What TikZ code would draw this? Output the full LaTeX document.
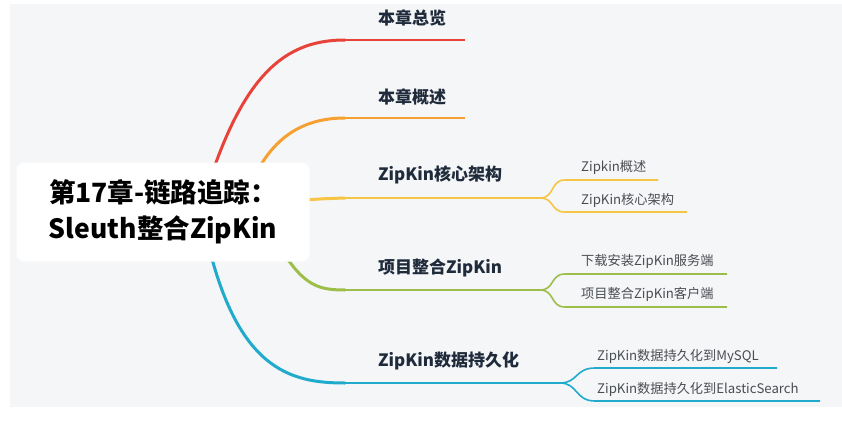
\documentclass[tikz,border=0pt]{standalone}
\usepackage{fontspec}
\setmainfont{Noto Sans CJK SC}
\definecolor{bgcol}{HTML}{F5F6F8}
\definecolor{navy}{HTML}{1F2B3B}
\definecolor{subgray}{HTML}{4A4D52}
\definecolor{redb}{HTML}{E8433A}
\definecolor{orangeb}{HTML}{F5A030}
\definecolor{yellowb}{HTML}{F6C545}
\definecolor{greenb}{HTML}{9DBE49}
\definecolor{blueb}{HTML}{20AACB}
\begin{document}
\begin{tikzpicture}[x=1pt,y=-1pt,
  topic/.style={anchor=west,inner sep=0pt,font=\bfseries\fontsize{17}{20}\selectfont,text=navy},
  leaf/.style={anchor=west,inner sep=0pt,font=\fontsize{13.2}{15}\selectfont,text=subgray},
  limb/.style={line width=3pt,line cap=round},
  twig/.style={line width=1.6pt}]
\useasboundingbox (0,0) rectangle (842,425);
\fill[white] (0,0) rectangle (842,425);
\fill[bgcol] (10,4) rectangle (842,407);
% main branches
\coordinate (r0) at (195,230);
\coordinate (o0) at (245,200);
\coordinate (y0) at (290,202);
\coordinate (g0) at (270,230);
\coordinate (b0) at (205,230);
\coordinate (r1) at (345,40);  \coordinate (r2) at (465,40);
\coordinate (o1) at (345,118); \coordinate (o2) at (465,118);
\coordinate (y1) at (345,198); \coordinate (y2) at (540,198);
\coordinate (g1) at (345,290); \coordinate (g2) at (540,290);
\coordinate (b1) at (345,383); \coordinate (b2) at (560,383);
\draw[limb,redb] (r0) .. controls (235,80) and (280,40) .. (r1);
\draw[twig,redb] (r1) -- (r2);
\draw[limb,orangeb] (o0) .. controls (265,140) and (300,118) .. (o1);
\draw[twig,orangeb] (o1) -- (o2);
\draw[limb,yellowb] (y0) .. controls (315,199) .. (y1);
\draw[twig,yellowb] (y1) -- (y2);
\draw[limb,greenb] (g0) .. controls (300,285) and (315,290) .. (g1);
\draw[twig,greenb] (g1) -- (g2);
\draw[limb,blueb] (b0) .. controls (235,370) and (290,383) .. (b1);
\draw[twig,blueb] (b1) -- (b2);
% sub branches
\coordinate (ya) at (565,180); \coordinate (ya2) at (658,180);
\coordinate (yb) at (565,212); \coordinate (yb2) at (687,212);
\coordinate (ga) at (565,274); \coordinate (ga2) at (727,274);
\coordinate (gb) at (565,307); \coordinate (gb2) at (727,307);
\coordinate (ba) at (595,368); \coordinate (ba2) at (777,368);
\coordinate (bb) at (595,401); \coordinate (bb2) at (820,401);
\draw[twig,yellowb] (y2) .. controls (555,198) and (550,180) .. (ya) -- (ya2);
\draw[twig,yellowb] (y2) .. controls (555,198) and (550,212) .. (yb) -- (yb2);
\draw[twig,greenb] (g2) .. controls (555,290) and (550,274) .. (ga) -- (ga2);
\draw[twig,greenb] (g2) .. controls (555,290) and (550,307) .. (gb) -- (gb2);
\draw[twig,blueb] (b2) .. controls (578,383) and (575,368) .. (ba) -- (ba2);
\draw[twig,blueb] (b2) .. controls (578,383) and (575,401) .. (bb) -- (bb2);
% central topic
\node[fill=white,rounded corners=8pt,minimum width=293pt,minimum height=99pt,
  align=center,font=\bfseries\fontsize{26.5}{36}\selectfont] (title) at (163,212)
  {第17章-链路追踪：\\Sleuth整合ZipKin};
% labels
\node[topic] (overview) at (378,18) {本章总览};
\node[topic] (summary) at (378,97) {本章概述};
\node[topic] (core) at (378,175) {ZipKin核心架构};
\node[topic] (integrate) at (378,268) {项目整合ZipKin};
\node[topic] (persist) at (378,361) {ZipKin数据持久化};
\node[leaf] (intro) at (581,167) {Zipkin概述};
\node[leaf] (arch) at (581,200) {ZipKin核心架构};
\node[leaf] (server) at (581,261) {下载安装ZipKin服务端};
\node[leaf] (client) at (581,294) {项目整合ZipKin客户端};
\node[leaf] (mysql) at (597,356) {ZipKin数据持久化到MySQL};
\node[leaf] (es) at (597,389) {ZipKin数据持久化到ElasticSearch};
\end{tikzpicture}
\end{document}
